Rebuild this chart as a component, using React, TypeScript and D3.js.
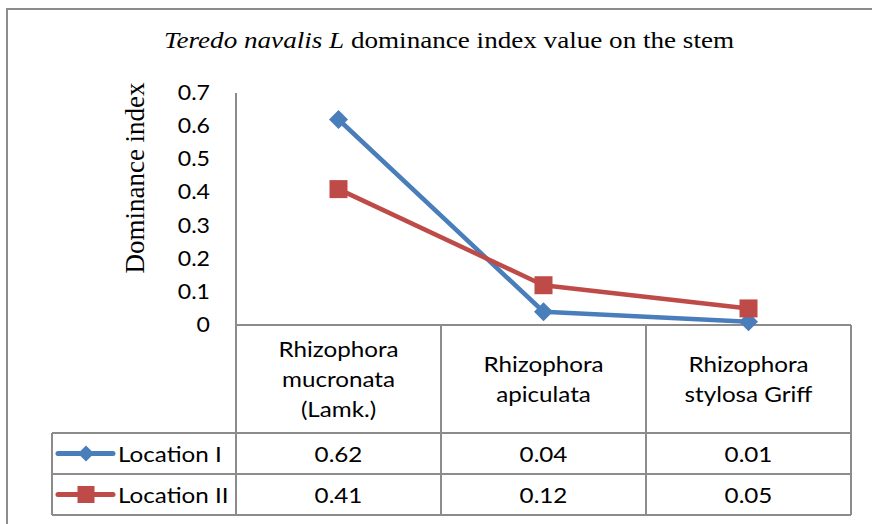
import React from 'react';
import * as d3 from 'd3';

const categories = [
  ['Rhizophora', 'mucronata', '(Lamk.)'],
  ['Rhizophora', 'apiculata'],
  ['Rhizophora', 'stylosa Griff'],
];
const seriesNames = ['Location I', 'Location II'];
const locationI = [0.62, 0.04, 0.01];
const locationII = [0.41, 0.12, 0.05];
const yTicks = [0, 0.1, 0.2, 0.3, 0.4, 0.5, 0.6, 0.7];

const W = 872;
const H = 524;
const colors = ['#4A7EBB', '#BE4B48'];
const grid = '#8c8c8c';
const sans = 'Lato, "Open Sans", sans-serif';
const serif = '"Liberation Serif", "Times New Roman", serif';
// the reference is a little wider than tall, so text is stretched sideways
const SX = 1.1;

const plot = { left: 236, right: 851, top: 93, bottom: 325 };
const headBottom = 433;
const rowH = 41;
const legendLeft = 52;

function T({ x, y, anchor = 'start', size = 22, family = sans, sx = SX, children }: any) {
  return (
    <g transform={`translate(${x},${y}) scale(${sx},1)`}>
      <text textAnchor={anchor} fontFamily={family} fontSize={size} fill="#000">
        {children}
      </text>
    </g>
  );
}

export default function App() {
  const keys = categories.map((c) => c.join(' '));
  const x = d3.scaleBand().domain(keys).range([plot.left, plot.right]);
  const y = d3.scaleLinear().domain([0, 0.7]).range([plot.bottom, plot.top]);
  const cx = (i: number) => (x(keys[i]) as number) + x.bandwidth() / 2;

  const line = d3
    .line<number>()
    .x((_, i) => cx(i))
    .y((d) => y(d));

  const series = [locationI, locationII];
  const diamond = (s: number) => `M0,${-s}L${s},0L0,${s}L${-s},0Z`;

  const marker = (k: number, px: number, py: number, big: boolean) =>
    k === 0 ? (
      <path d={diamond(big ? 9.5 : 8)} transform={`translate(${px},${py})`} fill={colors[0]} />
    ) : (
      <rect
        x={px - (big ? 9 : 8.5)}
        y={py - (big ? 9 : 8.5)}
        width={big ? 18 : 17}
        height={big ? 18 : 17}
        fill={colors[1]}
      />
    );

  const rows = series.map((_, k) => headBottom + k * rowH);
  const tableBottom = headBottom + series.length * rowH;

  return (
    <svg
      width={W}
      height={H}
      style={{ position: 'absolute', left: 0, top: 0, background: '#fff' }}
    >
      <rect x={7} y={9} width={W + 20} height={H + 20} fill="#fff" stroke={grid} strokeWidth={2} />

      <T x={449} y={48} anchor="middle" family={serif} size={24} sx={1.13}>
        <tspan fontStyle="italic">Teredo navalis L</tspan> dominance index value on the stem
      </T>

      <text
        transform={`translate(144,${(plot.top + plot.bottom) / 2 - 31}) rotate(-90)`}
        textAnchor="middle"
        fontFamily={serif}
        fontSize={27}
      >
        Dominance index
      </text>

      {yTicks.map((t) => (
        <T key={t} x={210} y={y(t) + 7} anchor="end" size={21}>
          {t}
        </T>
      ))}

      <line x1={plot.left} x2={plot.left} y1={plot.top} y2={tableBottom} stroke={grid} strokeWidth={2} />

      {/* table */}
      <g stroke={grid} strokeWidth={2} fill="none">
        <line x1={plot.left} x2={plot.right} y1={plot.bottom} y2={plot.bottom} />
        <line x1={legendLeft} x2={plot.right} y1={headBottom} y2={headBottom} />
        {rows.map((r, k) => (
          <line key={k} x1={legendLeft} x2={plot.right} y1={r + rowH} y2={r + rowH} />
        ))}
        <line x1={legendLeft} x2={legendLeft} y1={headBottom} y2={tableBottom} />
        {keys.map((k) => (
          <line
            key={k}
            x1={(x(k) as number) + x.bandwidth()}
            x2={(x(k) as number) + x.bandwidth()}
            y1={plot.bottom}
            y2={tableBottom}
          />
        ))}
      </g>

      {categories.map((c, i) => {
        const mid = (plot.bottom + headBottom) / 2;
        const lh = 30.5;
        const start = mid - ((c.length - 1) * lh) / 2 + 8;
        return (
          <T key={i} x={cx(i)} y={start} anchor="middle">
            {c.map((l, j) => (
              <tspan key={j} x={0} y={j * lh}>
                {l}
              </tspan>
            ))}
          </T>
        );
      })}

      {series.map((s, k) => (
        <g key={k}>
          <line
            x1={58}
            x2={113}
            y1={rows[k] + rowH / 2}
            y2={rows[k] + rowH / 2}
            stroke={colors[k]}
            strokeWidth={5}
            strokeLinecap="round"
          />
          {marker(k, 86, rows[k] + rowH / 2, false)}
          <T x={118} y={rows[k] + rowH / 2 + 8}>
            {seriesNames[k]}
          </T>
          {s.map((v, i) => (
            <T key={i} x={cx(i)} y={rows[k] + rowH / 2 + 8} anchor="middle">
              {v}
            </T>
          ))}
        </g>
      ))}

      {series.map((s, k) => (
        <g key={k}>
          <path d={line(s) as string} fill="none" stroke={colors[k]} strokeWidth={4.5} strokeLinejoin="round" />
          {s.map((v, i) => (
            <g key={i}>{marker(k, cx(i), y(v), true)}</g>
          ))}
        </g>
      ))}
    </svg>
  );
}
